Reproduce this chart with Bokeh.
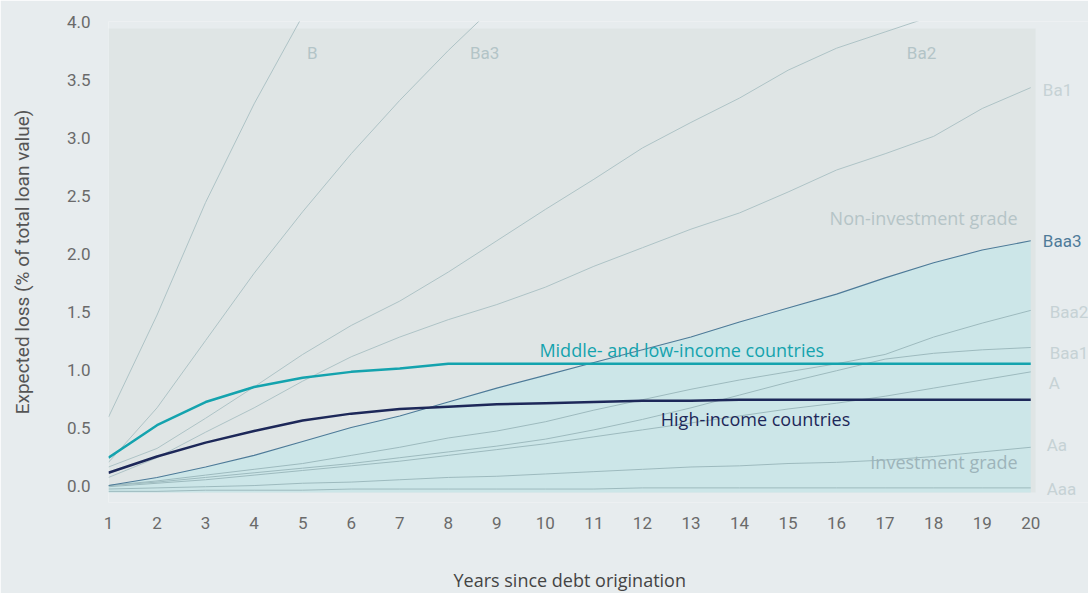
from bokeh.plotting import figure
from bokeh.models import Range1d, FixedTicker, Label, BoxAnnotation, Title, LinearAxis
from bokeh.embed import file_html
from bokeh.resources import INLINE

years = list(range(1, 21))

# Rating curves (expected loss, % of total loan value)
B = [0.59, 1.47, 2.44, 3.29, 4.05, 4.75]
Ba3 = [0.20, 0.67, 1.25, 1.83, 2.36, 2.86, 3.32, 3.75, 4.15]
Ba2 = [0.16, 0.32, 0.58, 0.85, 1.13, 1.38, 1.59, 1.84, 2.11, 2.38,
       2.64, 2.91, 3.13, 3.34, 3.58, 3.77, 3.91, 4.05]
Ba1 = [0.07, 0.24, 0.46, 0.67, 0.90, 1.11, 1.28, 1.43, 1.56, 1.71,
       1.89, 2.05, 2.21, 2.35, 2.53, 2.72, 2.86, 3.01, 3.25, 3.43]
Baa3 = [0.00, 0.07, 0.16, 0.26, 0.38, 0.50, 0.60, 0.72, 0.84, 0.95,
        1.06, 1.17, 1.28, 1.41, 1.53, 1.65, 1.79, 1.92, 2.03, 2.11]
Baa2 = [0.00, 0.04, 0.09, 0.14, 0.19, 0.26, 0.33, 0.41, 0.47, 0.55,
        0.65, 0.74, 0.83, 0.91, 0.98, 1.05, 1.13, 1.28, 1.40, 1.51]
Baa1 = [0.00, 0.03, 0.07, 0.11, 0.15, 0.19, 0.24, 0.29, 0.34, 0.40,
        0.48, 0.57, 0.67, 0.78, 0.89, 0.99, 1.09, 1.14, 1.17, 1.19]
A = [-0.01, 0.02, 0.05, 0.09, 0.13, 0.17, 0.21, 0.26, 0.31, 0.36,
     0.42, 0.48, 0.54, 0.60, 0.66, 0.71, 0.77, 0.84, 0.91, 0.98]
Aa = [-0.03, -0.02, -0.01, 0.00, 0.02, 0.03, 0.05, 0.07, 0.08, 0.10,
      0.12, 0.14, 0.16, 0.17, 0.19, 0.20, 0.22, 0.25, 0.29, 0.33]
Aaa = [-0.05, -0.05, -0.04, -0.04, -0.04, -0.03, -0.03, -0.03, -0.03, -0.03,
       -0.03, -0.02, -0.02, -0.02, -0.02, -0.02, -0.02, -0.02, -0.02, -0.02]

# Country groups
middle_low = [0.24, 0.52, 0.72, 0.85, 0.93, 0.98, 1.01, 1.05, 1.05, 1.05,
              1.05, 1.05, 1.05, 1.05, 1.05, 1.05, 1.05, 1.05, 1.05, 1.05]
high_income = [0.11, 0.25, 0.37, 0.47, 0.56, 0.62, 0.66, 0.68, 0.70, 0.71,
               0.72, 0.73, 0.73, 0.74, 0.74, 0.74, 0.74, 0.74, 0.74, 0.74]

y_ticks = [0.0, 0.5, 1.0, 1.5, 2.0, 2.5, 3.0, 3.5, 4.0]
x_ticks = years
# plotting area spans [-0.06, 3.94]; the frame is a little larger so side labels are not clipped
Y_PLOT_MIN, Y_PLOT_TOP = -0.06, 3.94
Y_MIN, Y_MAX = -0.146, 4.0
X_MIN, X_PLOT_END, X_MAX = 1, 20.1, 21.19

PAGE = "#e7ecee"
PLOT_BG = "#dfe5e5"
FILL = "#cce6e8"
GREY_LINE = "#aec3c6"
TICK_COLOR = "#6a6a6a"

p = figure(width=1088, height=593, output_backend="svg", toolbar_location=None,
           x_range=Range1d(X_MIN, X_MAX), y_range=Range1d(Y_MIN, Y_MAX),
           min_border_left=108, min_border_right=0, min_border_top=21,
           min_border_bottom=91)
p.background_fill_color = PAGE
p.border_fill_color = PAGE
p.outline_line_color = None
p.grid.visible = False

p.add_layout(BoxAnnotation(left=X_MIN, right=X_PLOT_END, bottom=Y_PLOT_MIN, top=Y_PLOT_TOP,
                           fill_color=PLOT_BG, fill_alpha=1.0, line_color=None,
                           level="underlay"))

p.varea(x=years, y1=[Y_PLOT_MIN] * len(years), y2=Baa3, fill_color=FILL, fill_alpha=1.0)

for series in [B, Ba3, Ba2, Ba1]:
    p.line(years[:len(series)], series, line_color=GREY_LINE, line_width=1)
for series in [Baa2, Baa1, A, Aa, Aaa]:
    p.line(years[:len(series)], series, line_color="#9dbabe", line_width=1)
p.line(years, Baa3, line_color="#4d7a98", line_width=1.1)

p.line(years, middle_low, line_color="#14a3ae", line_width=2.5)
p.line(years, high_income, line_color="#1d2859", line_width=2.5)

# axes
p.xaxis.ticker = FixedTicker(ticks=x_ticks)
p.yaxis.ticker = FixedTicker(ticks=y_ticks)
p.yaxis.major_label_overrides = {t: f"{t:.1f}" for t in y_ticks}
for ax in [p.xaxis[0], p.yaxis[0]]:
    ax.axis_line_color = None
    ax.major_tick_line_color = None
    ax.minor_tick_line_color = None
    ax.major_label_text_font = "Roboto"
    ax.major_label_text_font_size = "17px"
    ax.major_label_text_color = TICK_COLOR
    ax.axis_label_text_font_style = "normal"
p.xaxis.major_label_standoff = 8
p.yaxis.major_label_standoff = 12
p.yaxis.axis_label = "Expected loss (% of total loan value)"
p.yaxis.axis_label_text_font = "Roboto"
p.yaxis.axis_label_text_font_size = "19px"
p.yaxis.axis_label_text_color = "#555555"
p.yaxis.axis_label_standoff = 30

# invisible spacer between tick labels and the x title (tick drawn in page colour)
spacer = LinearAxis(ticker=FixedTicker(ticks=[X_MIN]), axis_line_color=None,
                    major_tick_line_color=PAGE, minor_tick_line_color=None,
                    major_tick_in=0, major_tick_out=34, minor_tick_out=0,
                    major_label_standoff=0, major_label_text_font_size="1px",
                    major_label_text_color=PAGE,
                    major_label_overrides={X_MIN: ""})
p.add_layout(spacer, "below")

# x-axis title, positioned under the plotting area (frame extends to the right labels)
p.add_layout(Title(text="Years since debt origination", align="left", offset=345,
                   standoff=0, text_font="Open Sans", text_font_size="18px",
                   text_font_style="normal", text_color="#444444"), "below")


def lab(x, y, text, color, align="left", size="18px", style="normal", font="Open Sans"):
    p.add_layout(Label(x=x, y=y, text=text, text_color=color, text_align=align,
                       text_baseline="middle", text_font=font, text_font_size=size,
                       text_font_style=style))


# curve labels inside the plot
lab(5.20, 3.73, "B", "#b3c4c7", "center", size="17px", font="Roboto")
lab(8.75, 3.73, "Ba3", "#b3c4c7", "center", size="17px", font="Roboto")
lab(17.75, 3.73, "Ba2", "#b3c4c7", "center", size="17px", font="Roboto")
lab(19.73, 2.31, "Non-investment grade", "#b5c4c7", "right")
lab(19.73, 0.20, "Investment grade", "#9db4ba", "right")
lab(12.81, 1.17, "Middle- and low-income countries", "#14a3ae", "center")
lab(14.33, 0.57, "High-income countries", "#1d2859", "center")

# right-hand rating labels
for x, y, t, c in [(20.25, 3.41, "Ba1", "#c6d2d5"), (20.25, 2.11, "Baa3", "#4f7b99"),
                   (20.39, 1.50, "Baa2", "#c6d2d5"), (20.39, 1.14, "Baa1", "#c6d2d5"),
                   (20.37, 0.88, "A", "#c6d2d5"), (20.33, 0.35, "Aa", "#c6d2d5"),
                   (20.33, -0.03, "Aaa", "#c6d2d5")]:
    lab(x, y, t, c, size="17px", font="Roboto")

open("out.html", "w").write(file_html(p, INLINE))
